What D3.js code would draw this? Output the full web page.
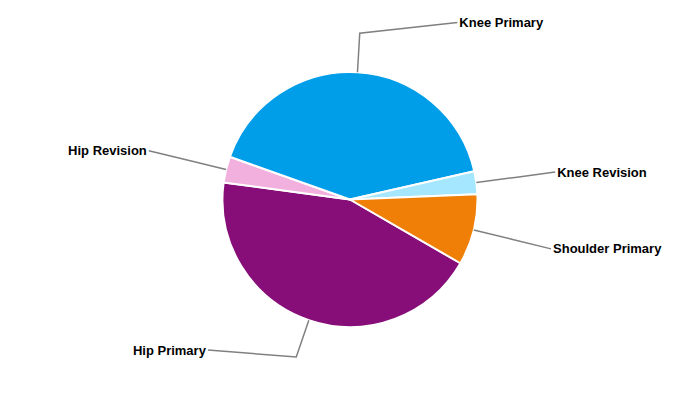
<!DOCTYPE html>
<html>
<head>
<meta charset="utf-8">
<script src="https://cdn.jsdelivr.net/npm/d3@7"></script>
<style>
  html, body { margin: 0; padding: 0; background: #fff; }
  svg { display: block; }
</style>
</head>
<body>
<svg id="chart" width="700" height="400"></svg>
<script>
// ---- data ----
const categories = ["Hip Primary", "Hip Revision", "Knee Primary", "Knee Revision", "Shoulder Primary"];
const values = [43.8, 3.3, 41.0, 2.9, 9.0];
const colors = ["#870e78", "#f2b0df", "#009ee9", "#a5e7fe", "#f07f08"];

// ---- layout ----
const W = 700, H = 400;
const cx = 350, cy = 199.5, r = 127.5;
const startDeg = 120;
const breakDist = 39;      // connector bend beyond pie edge
const labelR = 207;        // label circle radius
const labelTop = 22.5, labelBottom = 350; // label vertical bounds

const svg = d3.select("#chart");
const g = svg.append("g").attr("transform", `translate(${cx},${cy})`);

const data = categories.map((c, i) => ({ name: c, value: values[i], color: colors[i] }));
const pie = d3.pie().sort(null).value(d => d.value)
  .startAngle(startDeg * Math.PI / 180)
  .endAngle(startDeg * Math.PI / 180 + 2 * Math.PI);
const arcs = pie(data);
const arc = d3.arc().innerRadius(0).outerRadius(r);

g.selectAll("path.slice").data(arcs).enter().append("path")
  .attr("class", "slice")
  .attr("d", arc)
  .attr("fill", d => d.data.color)
  .attr("stroke", "#ffffff")
  .attr("stroke-width", 2)
  .attr("stroke-linejoin", "round");

// labels and connectors
arcs.forEach(d => {
  const a = (d.startAngle + d.endAngle) / 2;
  const s = Math.sin(a), c = Math.cos(a);
  const right = s >= 0;
  const edge = [s * r, -c * r];
  const brk = [s * (r + breakDist), -c * (r + breakDist)];
  let ly = -c * labelR;
  ly = Math.max(labelTop - cy, Math.min(labelBottom - cy, ly));
  const lx = (right ? 1 : -1) * Math.sqrt(Math.max(0, labelR * labelR - ly * ly));
  g.append("path")
    .attr("d", d3.line()([[lx, ly], brk, edge]))
    .attr("fill", "none")
    .attr("stroke", "#808080")
    .attr("stroke-width", 1.5);
  g.append("text")
    .attr("x", lx + (right ? 2 : -2))
    .attr("y", ly)
    .attr("dy", "0.35em")
    .attr("text-anchor", right ? "start" : "end")
    .attr("font-family", "'Liberation Sans', Arial, sans-serif")
    .attr("font-size", 13)
    .attr("font-weight", "bold")
    .attr("fill", "#000")
    .text(d.data.name);
});
</script>
</body>
</html>
